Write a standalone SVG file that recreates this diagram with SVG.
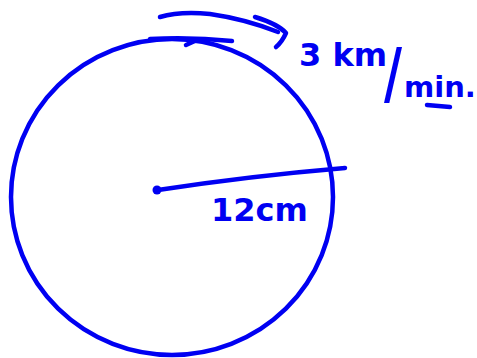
<svg xmlns="http://www.w3.org/2000/svg" width="477" height="358" viewBox="0 0 477 358">
<style>
.ink{fill:none;stroke:#0000f2;stroke-width:4.5;stroke-linecap:round;stroke-linejoin:round}
.lbl{fill:#0000f2;font-family:"DejaVu Sans",sans-serif;font-weight:bold}
</style>
<rect width="477" height="358" fill="#ffffff"/>
<g id="circle">
<ellipse class="ink" cx="172" cy="197" rx="161" ry="158"/>
<path class="ink" d="M150,39 Q192,37 232,41"/>
<path class="ink" d="M186,45 L197,40"/>
</g>
<g id="radius">
<path class="ink" d="M158,190 Q250,176 345,168"/>
<circle cx="157" cy="190" r="4.5" fill="#0000f2"/>
<text class="lbl" x="211" y="221" font-size="32">12cm</text>
</g>
<g id="speed">
<path class="ink" d="M160,17 Q180,11 210,14 Q245,19 278,32"/>
<path class="ink" d="M255,17 Q278,24 286,33 Q282,42 276,47"/>
<text class="lbl" x="299" y="66" font-size="32">3 km</text>
<text class="lbl" font-size="52" transform="translate(384,97) scale(0.95,1.3)">/</text>
<text class="lbl" x="404" y="97" font-size="29">min.</text>
<path class="ink" d="M427,105 L450,107"/>
</g>
</svg>
